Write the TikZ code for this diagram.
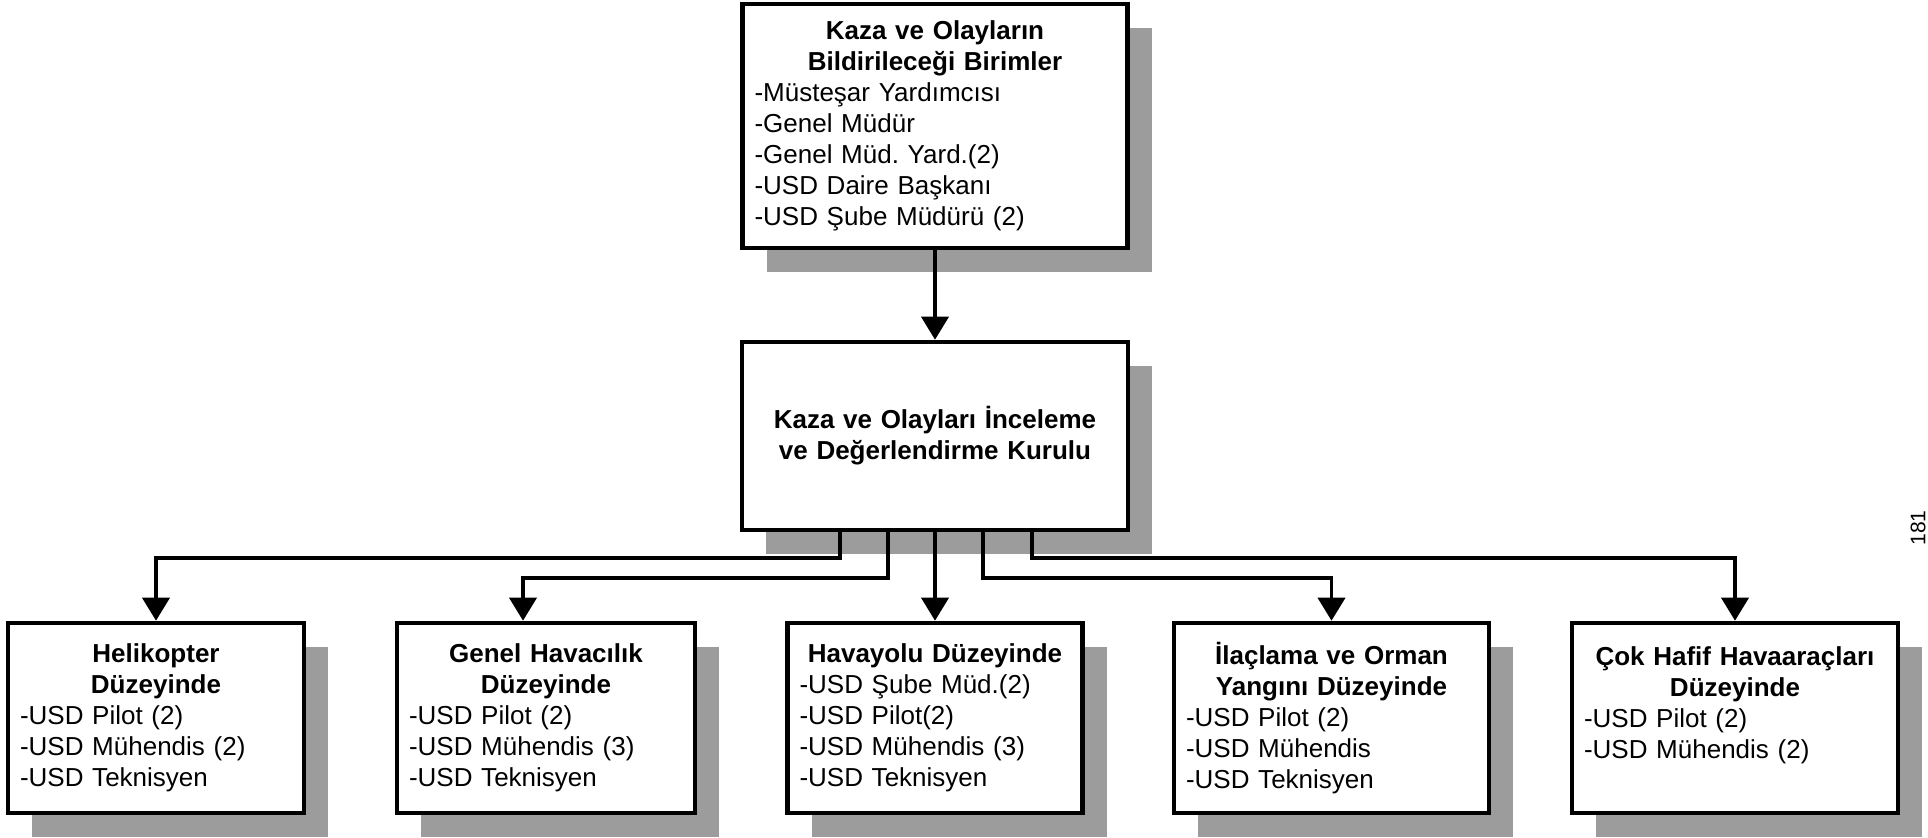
\documentclass[tikz,border=0pt]{standalone}
\usepackage{fontspec}
\setmainfont{Liberation Sans}
\usetikzlibrary{arrows.meta, positioning, shadows}
\definecolor{shadowgray}{HTML}{9C9C9C}
\newcommand{\boxtext}[2]{{\centering\bfseries #1\par}\raggedright #2}
\tikzset{
    unit/.style={rectangle, draw, line width=2.6pt, fill=white, inner sep=0.24cm, text width=#1, minimum height=3.8cm, font=\fontsize{14.8}{17.6}\selectfont, drop shadow={shadow xshift=0.48cm, shadow yshift=-0.48cm, fill=shadowgray, opacity=1}},
    arr/.style={-{Triangle[length=0.46cm, width=0.54cm]}, line width=2.2pt},
}

\begin{document}
\begin{tikzpicture}

\useasboundingbox (0,0) rectangle (38.56,-16.74);

% ── Top ──
\node[unit=7.22cm, minimum height=4.88cm] (birimler) at (18.7, -2.52) {\boxtext{Kaza ve Olayların\\Bildirileceği Birimler}{-Müsteşar Yardımcısı\\-Genel Müdür\\-Genel Müd.\ Yard.(2)\\-USD Daire Başkanı\\-USD Şube Müdürü (2)}};

\node[unit=7.24cm, minimum height=3.76cm] (kurul) at (18.7, -8.72) {\boxtext{Kaza ve Olayları İnceleme\\ve Değerlendirme Kurulu}{}};

\draw[arr] (birimler) -- (kurul);

% ── Levels ──
\node[unit=5.44cm] (heli) at (3.12, -14.36) {\boxtext{Helikopter\\Düzeyinde}{-USD Pilot (2)\\-USD Mühendis (2)\\-USD Teknisyen}};
\node[unit=5.48cm] (genel) at (10.92, -14.36) {\boxtext{Genel Havacılık\\Düzeyinde}{-USD Pilot (2)\\-USD Mühendis (3)\\-USD Teknisyen}};
\node[unit=5.42cm] (havayolu) at (18.7, -14.36) {\boxtext{Havayolu Düzeyinde}{-USD Şube Müd.(2)\\-USD Pilot(2)\\-USD Mühendis (3)\\-USD Teknisyen}};
\node[unit=5.82cm] (ilaclama) at (26.63, -14.36) {\boxtext{İlaçlama ve Orman\\Yangını Düzeyinde}{-USD Pilot (2)\\-USD Mühendis\\-USD Teknisyen}};
\node[unit=6.04cm] (cokhafif) at (34.70, -14.36) {\boxtext{Çok Hafif Havaaraçları\\Düzeyinde}{-USD Pilot (2)\\-USD Mühendis (2)\\\mbox{}}};

\draw[arr] ([xshift=-1.9cm]kurul.south) -- ++(0,-0.52) -| (heli.north);
\draw[arr] ([xshift=-0.94cm]kurul.south) -- ++(0,-0.92) -| ([xshift=-0.46cm]genel.north);
\draw[arr] (kurul) -- (havayolu);
\draw[arr] ([xshift=0.96cm]kurul.south) -- ++(0,-0.92) -| (ilaclama.north);
\draw[arr] ([xshift=1.94cm]kurul.south) -- ++(0,-0.52) -| (cokhafif.north);

\node[rotate=90, font=\fontsize{12}{14}\selectfont, inner sep=0pt] (sayfa) at (38.36, -10.56) {181};

\end{tikzpicture}
\end{document}
